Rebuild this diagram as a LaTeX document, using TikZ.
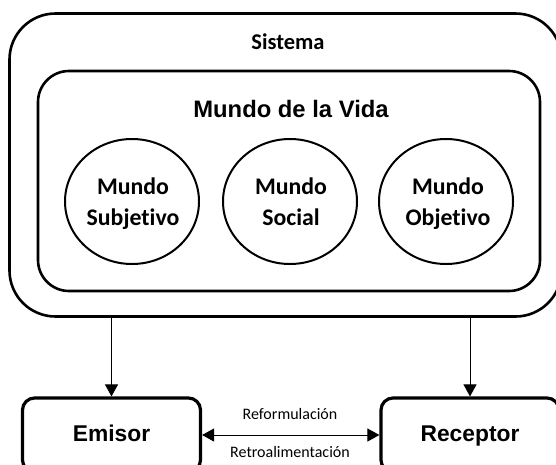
\documentclass[tikz,border=0pt]{standalone}
\usepackage{fontspec}
\newfontfamily\calfont[Ligatures={NoCommon}]{Carlito}
\newfontfamily\arifont{Liberation Sans}
\usetikzlibrary{arrows.meta,shapes.geometric}
\tikzset{
  bigbox/.style={draw, line width=2.6pt, rounded corners=#1, inner sep=0pt},
  world/.style={draw, ellipse, line width=2pt, minimum width=134pt, minimum height=125pt, inner sep=0pt},
  actor/.style={draw, line width=3.2pt, rounded corners=12pt, minimum width=178pt, minimum height=74pt, inner sep=0pt},
  calb/.style={font=\calfont\bfseries\fontsize{23.8}{31}\selectfont, anchor=base, inner sep=0pt},
  small/.style={font=\calfont\fontsize{16}{18}\selectfont, anchor=base, inner sep=0pt},
  flow/.style={line width=1pt, -{Triangle[length=12pt,width=13pt]}},
}
\begin{document}
\begin{tikzpicture}[x=1pt,y=-1pt]
\useasboundingbox (0,0) rectangle (556,464);
\clip (0,0) rectangle (556,464);
% outer and inner boxes
\node[bigbox=46pt, minimum width=552pt, minimum height=303pt] (sistema) at (285.5,165) {};
\node[bigbox=31pt, minimum width=502pt, minimum height=220pt] (vida) at (289,181) {};
\node[font=\calfont\bfseries\fontsize{22.5}{26}\selectfont, anchor=base, inner sep=0pt] (tsis) at (288,49) {Sistema};
\node[font=\arifont\bfseries\fontsize{23.8}{28}\selectfont, anchor=base, inner sep=0pt] (tvida) at (291,117) {Mundo de la Vida};
% worlds
\node[world] (subj) at (132,201.5) {};
\node[world] (soc) at (290,201.5) {};
\node[world] (obj) at (446,201.5) {};
\node[calb] (subj1) at (133,194) {Mundo};
\node[calb] (subj2) at (133,225) {Subjetivo};
\node[calb] (soc1) at (291,194) {Mundo};
\node[calb] (soc2) at (291,225) {Social};
\node[calb] (obj1) at (448,194) {Mundo};
\node[calb] (obj2) at (448,225) {Objetivo};
% actors
\node[actor] (emisor) at (111.5,435) {};
\node[actor] (receptor) at (470,435) {};
\node[font=\arifont\bfseries\fontsize{22.8}{27}\selectfont, anchor=base, inner sep=0pt] (temisor) at (111.5,441) {Emisor};
\node[font=\arifont\bfseries\fontsize{22.8}{27}\selectfont, anchor=base, inner sep=0pt] (treceptor) at (470,441) {Receptor};
% connectors
\draw[flow] (sistema.south -| emisor.north) -- (emisor.north);
\draw[flow] (sistema.south -| receptor.north) -- (receptor.north);
\draw[line width=1pt, {Triangle[length=12pt,width=13pt]}-{Triangle[length=12pt,width=13pt]}] (emisor.east) -- (receptor.west);
\node[small] (reform) at (290,419) {Reformulación};
\node[small] (retro) at (290,457.5) {Retroalimentación};
\end{tikzpicture}
\end{document}
